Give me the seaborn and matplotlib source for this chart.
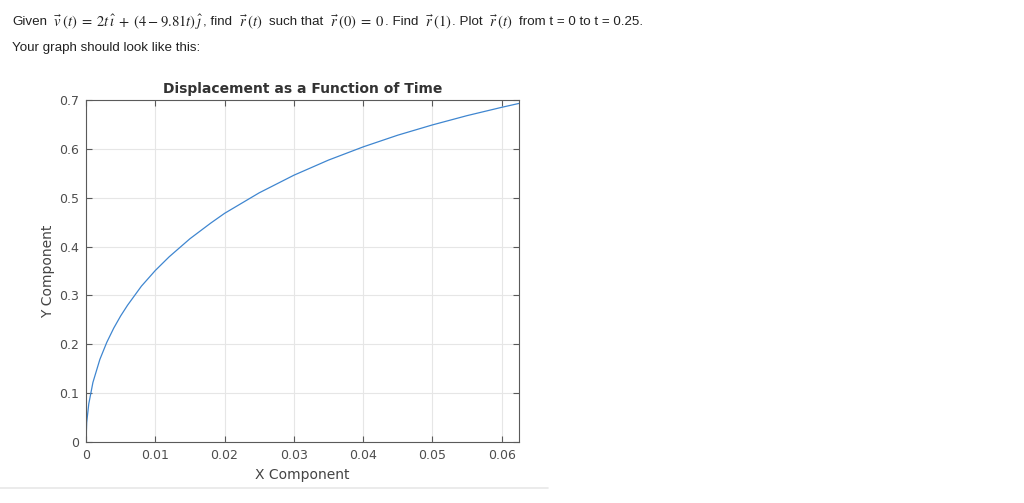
import numpy as np
import pandas as pd
import matplotlib.pyplot as plt
import seaborn as sns

# values
x_comp = [0, 0.0001, 0.0004, 0.001, 0.002, 0.003, 0.004, 0.005, 0.006, 0.008,
          0.01, 0.012, 0.015, 0.018, 0.02, 0.025, 0.03, 0.035, 0.04, 0.045,
          0.05, 0.055, 0.06, 0.0625]
y_comp = [0, 0.040, 0.078, 0.122, 0.169, 0.204, 0.233, 0.258, 0.280, 0.319,
          0.351, 0.379, 0.416, 0.448, 0.468, 0.510, 0.546, 0.577, 0.604, 0.628,
          0.649, 0.668, 0.685, 0.693]
x_ticks = [0, 0.01, 0.02, 0.03, 0.04, 0.05, 0.06]
x_labels = ['0', '0.01', '0.02', '0.03', '0.04', '0.05', '0.06']
y_ticks = [0, 0.1, 0.2, 0.3, 0.4, 0.5, 0.6, 0.7]
y_labels = ['0', '0.1', '0.2', '0.3', '0.4', '0.5', '0.6', '0.7']

# question text, split in plain and math pieces (gap before piece?)
pieces = [('Given', False, False),
          (r'$\vec{v}\;(t) \;=\; 2t\,\hat{\imath} \;+\; (4 - 9.81t)\,\hat{\jmath}$', True, True),
          (', find', False, False),
          (r'$\vec{r}\;(t)$', True, True),
          ('such that', False, True),
          (r'$\vec{r}\;(0) \;=\; 0$', True, True),
          ('. Find', False, False),
          (r'$\vec{r}\;(1)$', True, True),
          ('. Plot', False, False),
          (r'$\vec{r}\;(t)$', True, True),
          ('from t = 0 to t = 0.25.', False, True)]

df = pd.DataFrame({'x': x_comp, 'y': y_comp})

sns.set_style('white')
plt.rcParams['font.family'] = ['DejaVu Sans']
plt.rcParams['mathtext.fontset'] = 'stix'

fig = plt.figure(figsize=(10.24, 5.03), dpi=100)
W, H = 1024, 503

# lay out the header pieces so the line runs from x=12 to x=643
r = fig.canvas.get_renderer()
texts = []
for s, is_math, gap in pieces:
    if is_math:
        t = fig.text(0, 1 - 22/H, s, fontsize=10.5, color='#222222', va='center', ha='left')
    else:
        t = fig.text(0, 1 - 22/H, s, fontsize=9.6, family='Liberation Sans',
                     color='#222222', va='center', ha='left')
    texts.append(t)
widths = [t.get_window_extent(r).width for t in texts]
ngaps = sum(1 for p in pieces if p[2])
gap_px = (643 - 12 - sum(widths)) / ngaps
xpos = 12
for t, w, p in zip(texts, widths, pieces):
    if p[2]:
        xpos += gap_px
    t.set_x(xpos / W)
    xpos += w

fig.text(12/W, 1 - 48/H, 'Your graph should look like this:',
         fontsize=9.6, family='Liberation Sans', color='#222222', va='center', ha='left')

ax = fig.add_axes([86/W, 1 - 442/H, 433/W, 342/H])
sns.lineplot(data=df, x='x', y='y', ax=ax, sort=False, estimator=None,
             color='#3f86d0', linewidth=0.9)

ax.set_xlim(0, 0.0625)
ax.set_ylim(0, 0.7)
ax.set_xticks(x_ticks)
ax.set_xticklabels(x_labels)
ax.set_yticks(y_ticks)
ax.set_yticklabels(y_labels)
ax.grid(True, color='#e6e6e6', linewidth=0.8)
ax.set_axisbelow(True)
for s in ax.spines.values():
    s.set_color('#5a5a5a')
    s.set_linewidth(0.8)
ax.tick_params(direction='in', length=4, width=0.8, color='#5a5a5a',
               labelcolor='#4d4d4d', labelsize=9, top=True, right=True,
               bottom=True, left=True, pad=5)
ax.set_title('Displacement as a Function of Time', fontsize=10, weight='bold',
             color='#333333', pad=5)
ax.set_xlabel('X Component', fontsize=10, color='#444444', labelpad=4)
ax.set_ylabel('Y Component', fontsize=10, color='#444444', labelpad=3)

# separator under the chart
fig.add_artist(plt.Line2D([0, 548/W], [1 - 488/H, 1 - 488/H],
                          color='#e8e8e8', linewidth=1.2))

fig.savefig('out.png', dpi=100)
